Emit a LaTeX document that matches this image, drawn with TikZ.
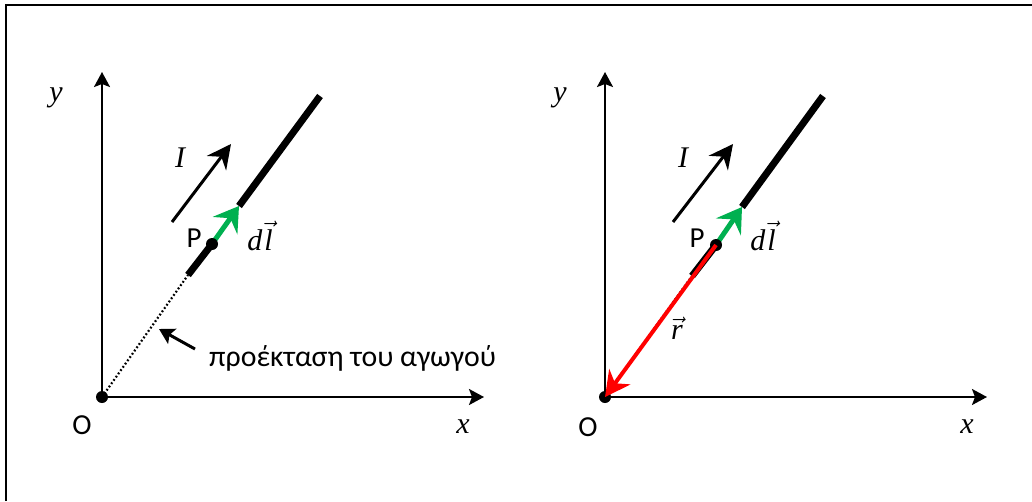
\RequirePackage{fix-cm}
\documentclass[tikz,border=0pt]{standalone}
\usepackage{fontspec}
\setmainfont{Carlito}
\newfontfamily\mlet{Liberation Serif}
\usetikzlibrary{arrows.meta}
\definecolor{dlgreen}{RGB}{0,176,80}
\definecolor{rred}{RGB}{255,0,0}
\newcommand{\ml}[1]{{\mlet\itshape #1}}
\begin{document}
\begin{tikzpicture}[x=1pt,y=-1pt,
  axis/.style={line width=2.2pt,-{Stealth[length=15pt,width=16pt,inset=3pt]}},
  wire/.style={line width=7pt},
  extension/.style={line width=2.2pt,dash pattern=on 1.8pt off 2.2pt},
  curarrow/.style={line width=3pt,-{Stealth[length=24pt,width=24pt,inset=8pt]}},
  dlarrow/.style={dlgreen,line width=5pt,-{Stealth[length=24pt,width=30pt,inset=9pt]}},
  rarrow/.style={rred,line width=4pt,-{Stealth[length=25pt,width=26pt,inset=8pt]}},
  notearrow/.style={line width=3pt,-{Stealth[length=15pt,width=17pt,inset=3pt]}},
  dot/.style={circle,fill=black,inner sep=0pt,minimum size=12pt},
  txt/.style={font=\fontsize{29}{33}\selectfont,inner sep=0pt},
  mth/.style={font=\fontsize{30}{34}\selectfont,inner sep=0pt}]
\useasboundingbox (0,0) rectangle (1032,501);
\fill[white] (0,0) rectangle (1032,501);
\draw[line width=2pt] (6,501) -- (6,5) -- (1032,5);

% ---------- left diagram ----------
\coordinate (O1) at (102,397);
\coordinate (Y1) at (102,72);
\coordinate (X1) at (484,397);
\coordinate (A1) at (188,275);
\coordinate (P1) at (212,244);
\coordinate (T1) at (239,206);
\coordinate (B1) at (320,96);
\coordinate (IS1) at (172,222);
\coordinate (IE1) at (231,144);
\coordinate (NS) at (195,349);
\coordinate (NE) at (159,329);

\draw[axis] (O1) -- (Y1);
\draw[axis] (O1) -- (X1);
\draw[extension] (O1) -- (A1);
\draw[wire] (A1) -- (P1);
\draw[wire] (T1) -- (B1);
\draw[dlarrow] (P1) -- (T1);
\node[dot] (D1) at (P1) {};
\node[dot] (OD1) at (O1) {};
\draw[curarrow] (IS1) -- (IE1);
\draw[notearrow] (NS) -- (NE);

\node[mth] (ly1) at (56,98) {\ml{y}};
\node[mth] (lx1) at (463,427) {\ml{x}};
\node[txt] (lo1) at (82,425) {O};
\node[mth] (li1) at (180,158) {\ml{I}};
\node[txt] (lp1) at (194,238) {P};
\node[mth] (ld1) at (260,236) {\ml{d}\kern2pt$\vec{\hbox{\ml{l}}}$};
\node[txt,anchor=west,font=\fontsize{29.8}{34}\selectfont] (note) at (209,358) {προέκταση του αγωγού};

% ---------- right diagram ----------
\coordinate (O2) at (605,397);
\coordinate (Y2) at (605,72);
\coordinate (X2) at (987,397);
\coordinate (A2) at (692,276);
\coordinate (P2) at (716,245);
\coordinate (T2) at (742,207);
\coordinate (B2) at (823,96);
\coordinate (IS2) at (673,222);
\coordinate (IE2) at (733,144);

\draw[axis] (O2) -- (Y2);
\draw[axis] (O2) -- (X2);
\draw[extension] (O2) -- (A2);
\draw[wire] (A2) -- (P2);
\draw[wire] (T2) -- (B2);
\draw[dlarrow] (P2) -- (T2);
\node[dot] (D2) at (P2) {};
\node[dot] (OD2) at (O2) {};
\draw[rarrow] (P2) -- (O2);
\draw[curarrow] (IS2) -- (IE2);

\node[mth] (ly2) at (560,98) {\ml{y}};
\node[mth] (lx2) at (967,427) {\ml{x}};
\node[txt] (lo2) at (588,427) {O};
\node[mth] (li2) at (683,158) {\ml{I}};
\node[txt] (lp2) at (697,238) {P};
\node[mth] (ld2) at (763,236) {\ml{d}\kern2pt$\vec{\hbox{\ml{l}}}$};
\node[mth] (lr2) at (677,328) {$\vec{\hbox{\ml{r}}}$};
\end{tikzpicture}
\end{document}
